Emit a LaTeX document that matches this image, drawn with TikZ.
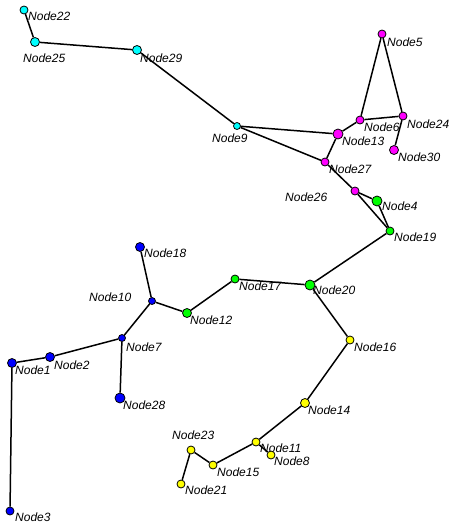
\documentclass[tikz,border=0pt]{standalone}
\usepackage{fontspec}
\setsansfont{Liberation Sans}
\usepackage{tikz}
\definecolor{cyannode}{RGB}{0,255,255}
\definecolor{magnode}{RGB}{255,0,255}
\definecolor{bluenode}{RGB}{0,0,255}
\definecolor{greennode}{RGB}{0,255,0}
\definecolor{yellownode}{RGB}{255,255,0}

\begin{document}
\begin{tikzpicture}[x=1pt, y=-1pt,
	dot/.style={circle, draw=black, line width=0.8pt, inner sep=0pt, minimum size=8pt},
	big/.style={dot, minimum size=10pt},
	lbl/.style={anchor=west, inner sep=0pt, font=\sffamily\itshape\fontsize{12}{13}\selectfont},
	edge/.style={line width=1.5pt}]
	\useasboundingbox (0,0) rectangle (454,525);
	% labels
	\path (28,16) node[lbl] (t22) {Node22};
	\path (23,58) node[lbl] (t25) {Node25};
	\path (140,58) node[lbl] (t29) {Node29};
	\path (212,138) node[lbl] (t9) {Node9};
	\path (387,42) node[lbl] (t5) {Node5};
	\path (364,127) node[lbl] (t6) {Node6};
	\path (407,124) node[lbl] (t24) {Node24};
	\path (342,141) node[lbl] (t13) {Node13};
	\path (398,157) node[lbl] (t30) {Node30};
	\path (329,169) node[lbl] (t27) {Node27};
	\path (285,197) node[lbl] (t26) {Node26};
	\path (382,206) node[lbl] (t4) {Node4};
	\path (394,237) node[lbl] (t19) {Node19};
	\path (144,253) node[lbl] (t18) {Node18};
	\path (89,297) node[lbl] (t10) {Node10};
	\path (190,320) node[lbl] (t12) {Node12};
	\path (239,286) node[lbl] (t17) {Node17};
	\path (313,290) node[lbl] (t20) {Node20};
	\path (126,347) node[lbl] (t7) {Node7};
	\path (54,365) node[lbl] (t2) {Node2};
	\path (15,370) node[lbl] (t1) {Node1};
	\path (123,405) node[lbl] (t28) {Node28};
	\path (15,517) node[lbl] (t3) {Node3};
	\path (354,347) node[lbl] (t16) {Node16};
	\path (308,410) node[lbl] (t14) {Node14};
	\path (260,448) node[lbl] (t11) {Node11};
	\path (274,461) node[lbl] (t8) {Node8};
	\path (217,472) node[lbl] (t15) {Node15};
	\path (172,435) node[lbl] (t23) {Node23};
	\path (185,490) node[lbl] (t21) {Node21};
	% cyan
	\node[dot, fill=cyannode] (n22) at (24,10) {};
	\node[dot, fill=cyannode, minimum size=9pt] (n25) at (35,42) {};
	\node[dot, fill=cyannode, minimum size=9pt] (n29) at (137,50) {};
	\node[dot, fill=cyannode, minimum size=7pt] (n9) at (237,126) {};
	% magenta
	\node[dot, fill=magnode] (n5) at (382,34) {};
	\node[dot, fill=magnode] (n6) at (360,120) {};
	\node[dot, fill=magnode] (n24) at (403,116) {};
	\node[big, fill=magnode] (n13) at (338,134) {};
	\node[dot, fill=magnode, minimum size=9pt] (n30) at (394,150) {};
	\node[dot, fill=magnode] (n27) at (325,162) {};
	\node[dot, fill=magnode] (n26) at (355,191) {};
	% green
	\node[big, fill=greennode] (n4) at (377,201) {};
	\node[dot, fill=greennode] (n19) at (390,231) {};
	\node[dot, fill=greennode, minimum size=9pt] (n12) at (187,313) {};
	\node[dot, fill=greennode] (n17) at (235,279) {};
	\node[big, fill=greennode] (n20) at (310,285) {};
	% blue
	\node[dot, fill=bluenode, minimum size=9pt] (n18) at (140,247) {};
	\node[dot, fill=bluenode, minimum size=7pt] (n10) at (152,301) {};
	\node[dot, fill=bluenode, minimum size=7pt] (n7) at (122,338) {};
	\node[dot, fill=bluenode, minimum size=9pt] (n2) at (50,357) {};
	\node[dot, fill=bluenode, minimum size=9pt] (n1) at (12,363) {};
	\node[big, fill=bluenode] (n28) at (120,398) {};
	\node[dot, fill=bluenode] (n3) at (10,511) {};
	% yellow
	\node[dot, fill=yellownode] (n16) at (350,340) {};
	\node[dot, fill=yellownode, minimum size=9pt] (n14) at (305,403) {};
	\node[dot, fill=yellownode] (n11) at (256,442) {};
	\node[dot, fill=yellownode] (n8) at (271,455) {};
	\node[dot, fill=yellownode] (n15) at (213,465) {};
	\node[dot, fill=yellownode] (n23) at (191,450) {};
	\node[dot, fill=yellownode] (n21) at (181,484) {};
	% edges
	\draw[edge] (n22) -- (n25);
	\draw[edge] (n25) -- (n29);
	\draw[edge] (n29) -- (n9);
	\draw[edge] (n9) -- (n13);
	\draw[edge] (n9) -- (n27);
	\draw[edge] (n13) -- (n27);
	\draw[edge] (n13) -- (n6);
	\draw[edge] (n6) -- (n5);
	\draw[edge] (n5) -- (n24);
	\draw[edge] (n6) -- (n24);
	\draw[edge] (n24) -- (n30);
	\draw[edge] (n27) -- (n26);
	\draw[edge] (n26) -- (n4);
	\draw[edge] (n26) -- (n19);
	\draw[edge] (n4) -- (n19);
	\draw[edge] (n19) -- (n20);
	\draw[edge] (n20) -- (n17);
	\draw[edge] (n17) -- (n12);
	\draw[edge] (n12) -- (n10);
	\draw[edge] (n10) -- (n18);
	\draw[edge] (n10) -- (n7);
	\draw[edge] (n7) -- (n2);
	\draw[edge] (n2) -- (n1);
	\draw[edge] (n1) -- (n3);
	\draw[edge] (n7) -- (n28);
	\draw[edge] (n20) -- (n16);
	\draw[edge] (n16) -- (n14);
	\draw[edge] (n14) -- (n11);
	\draw[edge] (n11) -- (n8);
	\draw[edge] (n11) -- (n15);
	\draw[edge] (n15) -- (n23);
	\draw[edge] (n23) -- (n21);
\end{tikzpicture}
\end{document}
